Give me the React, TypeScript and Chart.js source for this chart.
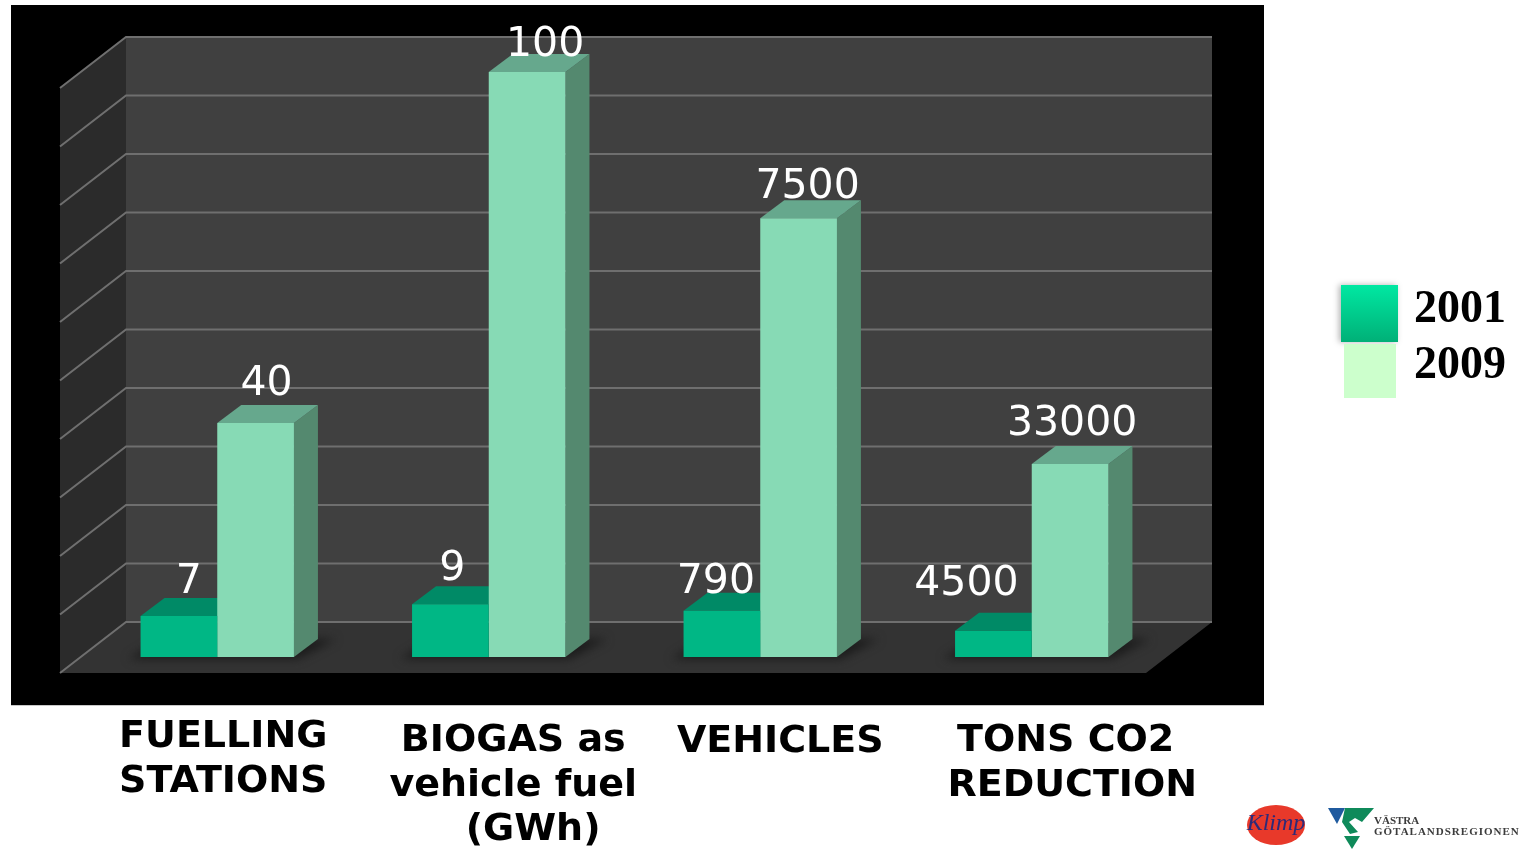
import React, { useEffect, useRef } from "react";
import { Chart, registerables } from "chart.js";

Chart.register(...registerables);

const categories = [
  ["FUELLING", "STATIONS"],
  ["BIOGAS as", "vehicle fuel", "   (GWh)"],
  ["VEHICLES"],
  ["TONS CO2 ", "REDUCTION"],
];
const seriesNames = ["2001", "2009"];
const heights2001 = [7, 9, 7.9, 4.5];
const heights2009 = [40, 100, 75, 33];
const shown2001 = ["7", "9", "790", "4500"];
const shown2009 = ["40", "100", "7500", "33000"];
const yTicks = { min: 0, max: 100, stepSize: 10 };

const labelShift2001 = [[10, -34], [2, -35], [-6, -28], [-27, -46]];
const labelShift2009 = [[11, -39], [18, -27], [9, -31], [2, -40]];
const tickShift = [[6, 0], [24.5, 4], [20, 5], [40.5, 4]];

const BACK = { dx: 44.5, dy: -35 };
const FRONT = { dx: -21.5, dy: 16 };
const DEPTH = { dx: 24, dy: -18 };

function poly(ctx: CanvasRenderingContext2D, pts: number[][], fill: string) {
  ctx.beginPath();
  pts.forEach((p, i) => (i ? ctx.lineTo(p[0], p[1]) : ctx.moveTo(p[0], p[1])));
  ctx.closePath();
  ctx.fillStyle = fill;
  ctx.fill();
}

const stage = {
  id: "stage",
  beforeDraw(chart: any) {
    const ctx = chart.ctx as CanvasRenderingContext2D;
    const { left, right } = chart.chartArea;
    const y = chart.scales.y;
    const y0 = y.getPixelForValue(0);
    const y100 = y.getPixelForValue(100);

    // place tick labels and legend
    const items = chart.scales.x.getLabelItems();
    items.forEach((it: any, i: number) => {
      it.options.translation = [
        it.options.translation[0] + tickShift[i][0],
        it.options.translation[1] + tickShift[i][1],
      ];
    });
    const lg = chart.legend;
    lg.left = 1351;
    lg.right = 1519;
    lg.top = 277.5;
    lg.bottom = 420;
    lg.width = lg.right - lg.left;
    lg.height = lg.bottom - lg.top;

    ctx.save();
    ctx.fillStyle = "#ffffff";
    ctx.fillRect(0, 0, chart.width, chart.height);
    ctx.fillStyle = "#000000";
    ctx.fillRect(11, 5, 1253, 700);

    const bl = left + BACK.dx, br = right + BACK.dx;
    const fl = left + FRONT.dx, fr = right + FRONT.dx;
    // back wall
    poly(ctx, [[bl, y100 + BACK.dy], [br, y100 + BACK.dy], [br, y0 + BACK.dy], [bl, y0 + BACK.dy]], "#404040");
    // side wall
    poly(ctx, [[bl, y100 + BACK.dy], [bl, y0 + BACK.dy], [fl, y0 + FRONT.dy], [fl, y100 + FRONT.dy]], "#2b2b2b");
    // floor
    poly(ctx, [[bl, y0 + BACK.dy], [br, y0 + BACK.dy], [fr, y0 + FRONT.dy], [fl, y0 + FRONT.dy]], "#333333");

    // gridlines, from the scale's ticks
    ctx.strokeStyle = "#6f6f6f";
    ctx.lineWidth = 2;
    y.ticks.forEach((t: any) => {
      const py = y.getPixelForValue(t.value);
      ctx.beginPath();
      ctx.moveTo(fl, py + FRONT.dy);
      ctx.lineTo(bl, py + BACK.dy);
      ctx.lineTo(br, py + BACK.dy);
      ctx.stroke();
    });
    ctx.restore();
  },
  beforeDatasetsDraw(chart: any) {
    const ctx = chart.ctx as CanvasRenderingContext2D;
    const { left, right } = chart.chartArea;
    const y0 = chart.scales.y.getPixelForValue(0);
    const bl = left + BACK.dx, br = right + BACK.dx;
    const fl = left + FRONT.dx, fr = right + FRONT.dx;
    const faces = [
      { top: "#008a66", side: "#00785a" },
      { top: "#66a88d", side: "#54896f" },
    ];
    // floor shadows
    ctx.save();
    ctx.beginPath();
    ctx.moveTo(bl, y0 + BACK.dy);
    ctx.lineTo(br, y0 + BACK.dy);
    ctx.lineTo(fr, y0 + FRONT.dy);
    ctx.lineTo(fl, y0 + FRONT.dy);
    ctx.closePath();
    ctx.clip();
    ctx.filter = "blur(5px)";
    chart.getDatasetMeta(1).data.forEach((b: any, i: number) => {
      const a = chart.getDatasetMeta(0).data[i];
      const x0 = a.x - a.width / 2;
      const x1 = b.x + b.width / 2;
      poly(ctx, [[x0 - 12, b.base + 2], [x1 + 4, b.base + 2], [x1 + DEPTH.dx + 18, b.base + DEPTH.dy], [x0 + 20, b.base + DEPTH.dy]], "#1c1c1c");
    });
    ctx.restore();

    [0, 1].forEach((d) => {
      chart.getDatasetMeta(d).data.forEach((b: any) => {
        const x0 = b.x - b.width / 2;
        const x1 = b.x + b.width / 2;
        poly(ctx, [[x1, b.y], [x1 + DEPTH.dx, b.y + DEPTH.dy], [x1 + DEPTH.dx, b.base + DEPTH.dy], [x1, b.base]], faces[d].side);
        poly(ctx, [[x0, b.y], [x0 + DEPTH.dx, b.y + DEPTH.dy], [x1 + DEPTH.dx, b.y + DEPTH.dy], [x1, b.y]], faces[d].top);
      });
    });
  },
  afterDatasetsDraw(chart: any) {
    const ctx = chart.ctx as CanvasRenderingContext2D;
    ctx.save();
    ctx.font = "41px 'DejaVu Sans'";
    ctx.fillStyle = "#ffffff";
    ctx.textAlign = "center";
    ctx.textBaseline = "middle";
    const sets = [
      { text: shown2001, shift: labelShift2001 },
      { text: shown2009, shift: labelShift2009 },
    ];
    sets.forEach((s, d) => {
      chart.getDatasetMeta(d).data.forEach((b: any, i: number) => {
        ctx.fillText(s.text[i], b.x + s.shift[i][0], b.y + s.shift[i][1]);
      });
    });
    ctx.restore();
  },
  afterDraw(chart: any) {
    const ctx = chart.ctx as CanvasRenderingContext2D;
    ctx.save();
    // legend swatches
    ctx.fillStyle = "#c8c8c8";
    ctx.fillRect(11, 705, 1253, 1);
    ctx.save();
    ctx.shadowColor = "rgba(0,0,0,0.3)";
    ctx.shadowBlur = 6;
    ctx.shadowOffsetX = -2;
    const g = ctx.createLinearGradient(0, 285, 0, 342);
    g.addColorStop(0, "#00e8a2");
    g.addColorStop(1, "#00b077");
    ctx.fillStyle = g;
    ctx.fillRect(1341, 285, 57, 57);
    ctx.restore();
    ctx.fillStyle = "#ccffcc";
    ctx.fillRect(1344, 344, 52, 54);

    // logos
    ctx.fillStyle = "#e8392a";
    ctx.beginPath();
    ctx.ellipse(1276, 825, 29, 20, 0, 0, Math.PI * 2);
    ctx.fill();
    ctx.fillStyle = "#2e2a78";
    ctx.font = "italic 24px 'Liberation Serif'";
    ctx.textAlign = "center";
    ctx.textBaseline = "middle";
    ctx.fillText("Klimp", 1276, 824);
    poly(ctx, [[1328, 808], [1345, 808], [1337, 824]], "#1f5a9e");
    poly(ctx, [[1345, 808], [1374, 808], [1362, 822], [1355, 818], [1349, 822], [1358, 832], [1350, 834], [1342, 822]], "#0f8a5a");
    poly(ctx, [[1344, 836], [1360, 836], [1352, 849]], "#0f8a5a");
    ctx.fillStyle = "#3c3c3c";
    ctx.textAlign = "left";
    ctx.font = "bold 11px 'Liberation Serif'";
    ctx.fillText("VÄSTRA", 1374, 821);
    (ctx as any).letterSpacing = "1px";
    ctx.fillText("GÖTALANDSREGIONEN", 1374, 832);
    ctx.restore();
  },
};

export default function App() {
  const ref = useRef<HTMLCanvasElement>(null);
  useEffect(() => {
    document.body.style.margin = "0";
    const chart = new Chart(ref.current!, {
      type: "bar",
      data: {
        labels: categories,
        datasets: [
          { label: seriesNames[0], data: heights2001, backgroundColor: "#00b785" },
          { label: seriesNames[1], data: heights2009, backgroundColor: "#87dab5" },
        ],
      },
      options: {
        responsive: false,
        animation: false,
        layout: { padding: { left: 81.5, right: 351.5, top: 72, bottom: 0 } },
        datasets: { bar: { barPercentage: 1, categoryPercentage: 0.565 } },
        plugins: {
          tooltip: { enabled: false },
          legend: {
            position: "chartArea",
            align: "start",
            labels: {
              boxWidth: 30,
              boxHeight: 12,
              padding: 10,
              color: "#000000",
              font: { family: "'Liberation Serif'", size: 46, weight: "bold" },
              generateLabels: () =>
                seriesNames.map((text, i) => ({
                  text,
                  datasetIndex: i,
                  fillStyle: "rgba(0,0,0,0)",
                  strokeStyle: "rgba(0,0,0,0)",
                  lineWidth: 0,
                })),
            },
          },
        },
        scales: {
          x: {
            grid: { display: false },
            border: { display: false },
            afterFit: (s: any) => {
              s.height = 192;
            },
            ticks: {
              color: "#000000",
              maxRotation: 0,
              autoSkip: false,
              padding: 50,
              font: { family: "'DejaVu Sans'", size: 38, weight: "bold", lineHeight: 1.17 },
            },
          },
          y: {
            display: false,
            min: yTicks.min,
            max: yTicks.max,
            ticks: { stepSize: yTicks.stepSize },
          },
        },
      },
      plugins: [stage],
    } as any);
    return () => chart.destroy();
  }, []);
  return (
    <canvas
      ref={ref}
      width={1519}
      height={849}
      style={{ position: "absolute", left: 0, top: 0, display: "block", filter: "blur(0.6px)" }}
    />
  );
}
